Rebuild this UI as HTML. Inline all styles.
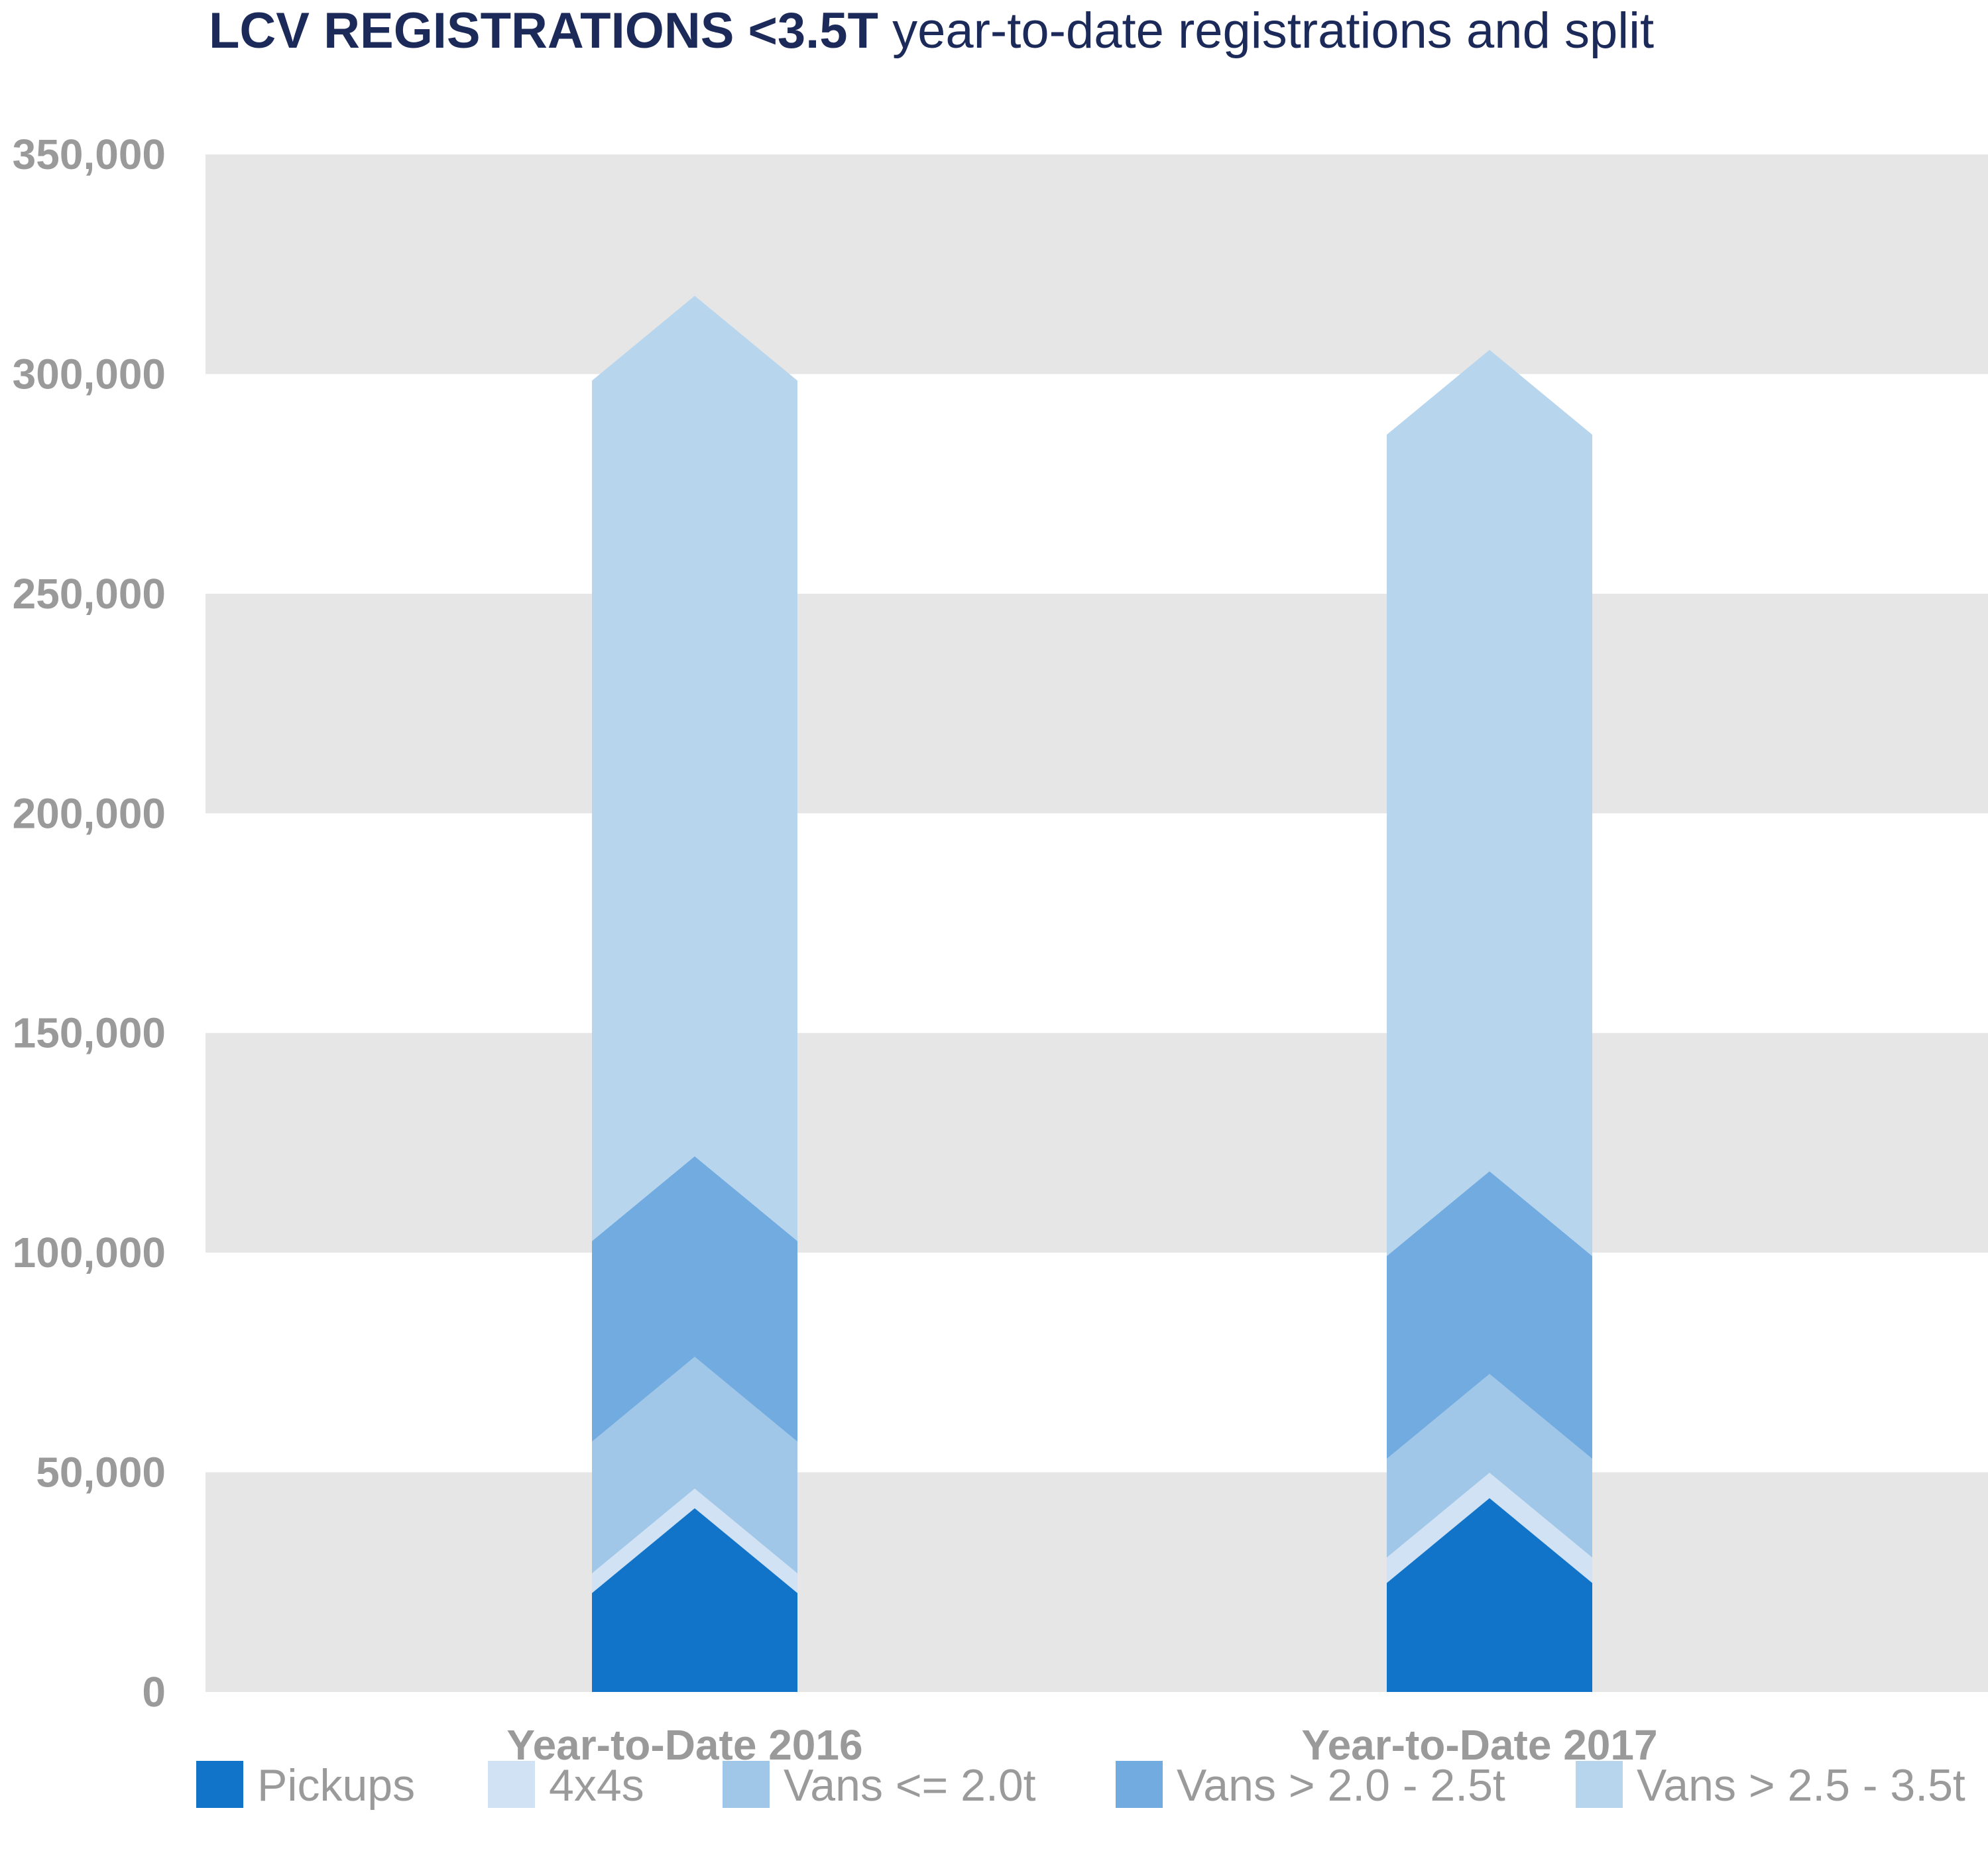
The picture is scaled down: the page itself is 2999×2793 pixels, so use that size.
<!DOCTYPE html>
<html><head><meta charset="utf-8"><style>
html,body{margin:0;padding:0;background:#fff;}
svg{display:block;font-family:"Liberation Sans",sans-serif;}
</style></head><body>
<svg id="chart" width="2999" height="2793" viewBox="0 0 2999 2793" xmlns="http://www.w3.org/2000/svg">
<text x="315" y="72" font-size="76" fill="#1c2a5a"><tspan font-weight="bold">LCV REGISTRATIONS &lt;3.5T</tspan><tspan fill="#1c2a5a"> year-to-date registrations and split</tspan></text>
<g id="bands"></g><g id="yticks"></g><g id="bars"></g><g id="xlabels"></g><g id="legend"></g>
</svg>
<script>
const categories = ["Year-to-Date 2016", "Year-to-Date 2017"];
const seriesNames = ["Pickups", "4x4s", "Vans <= 2.0t", "Vans > 2.0 - 2.5t", "Vans > 2.5 - 3.5t"];
const pickups = [22500, 24800];
const fourByFours = [4500, 5800];
const vansUpTo20 = [30000, 22500];
const vans20to25 = [45600, 46100];
const vans25to35 = [195900, 187000];
const yTicks = [0, 50000, 100000, 150000, 200000, 250000, 300000, 350000];
const yTickLabels = ["0", "50,000", "100,000", "150,000", "200,000", "250,000", "300,000", "350,000"];
const colors = ["#1174c9", "#d0e2f3", "#a0c6e8", "#71abdf", "#b8d5ee"];
const NS = "http://www.w3.org/2000/svg";
const X0 = 310, X1 = 2999, Y0 = 2553, Y1 = 233, VMAX = 350000;
const y = v => Y0 - (v / VMAX) * (Y0 - Y1);
const barCenters = [1048, 2247], barW = 310, chev = 128;
function mk(tag, attrs, parent) { const e = document.createElementNS(NS, tag); for (const k in attrs) e.setAttribute(k, attrs[k]); parent.appendChild(e); return e; }
const bands = document.getElementById('bands');
for (let i = 0; i < yTicks.length - 1; i++) {
  if (i % 2 === 0) {
    const r = mk('rect', {x: X0, y: y(yTicks[i+1]), width: X1 - X0, height: y(yTicks[i]) - y(yTicks[i+1]), fill: '#e6e6e6'}, bands);
    
    
  }
}
const yt = document.getElementById('yticks');
yTicks.forEach((v, i) => {
  const t = mk('text', {x: 250, y: y(v) + 22, 'text-anchor': 'end', 'font-size': 64, 'font-weight': 'bold', fill: '#9a9a9a'}, yt);
  t.textContent = yTickLabels[i];
  
  
});
const series = [pickups, fourByFours, vansUpTo20, vans20to25, vans25to35];
const bars = document.getElementById('bars');
categories.forEach((c, ci) => {
  const cum = []; let s = 0;
  series.forEach(arr => { s += arr[ci]; cum.push(s); });
  const cx = barCenters[ci], l = cx - barW / 2, r = cx + barW / 2;
  for (let k = series.length - 1; k >= 0; k--) {
    const top = y(cum[k]);
    const p = mk('polygon', {points: `${l},${Y0} ${l},${top} ${cx},${top - chev} ${r},${top} ${r},${Y0}`, fill: colors[k]}, bars);
    
    
  }
  const t = mk('text', {x: cx - 15, y: 2655, 'text-anchor': 'middle', 'font-size': 64, 'font-weight': 'bold', fill: '#9a9a9a'}, document.getElementById('xlabels'));
  t.textContent = c;
  
  
});
const legX = [296, 736, 1090, 1683, 2377];
const lg = document.getElementById('legend');
seriesNames.forEach((n, i) => {
  const r = mk('rect', {x: legX[i], y: 2657, width: 71, height: 71, fill: colors[i]}, lg);
  
  
  const t = mk('text', {x: legX[i] + 92, y: 2717, 'font-size': 68, fill: '#9a9a9a'}, lg);
  t.textContent = n;
  
  
});
</script>
</body></html>
